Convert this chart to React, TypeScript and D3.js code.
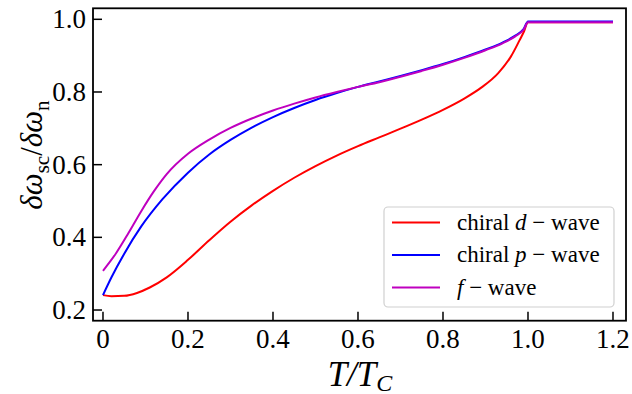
import React from 'react';
import * as d3 from 'd3';

// chiral d-wave (red)
const tD = [0, 0.02, 0.05, 0.08, 0.11, 0.15, 0.2, 0.25, 0.3, 0.35, 0.4, 0.45, 0.5, 0.55, 0.6, 0.65, 0.7, 0.75, 0.8, 0.85, 0.89, 0.93, 0.96, 0.98, 0.99, 1.0, 1.2];
const vD = [0.241, 0.238, 0.239, 0.247, 0.262, 0.29, 0.338, 0.392, 0.443, 0.488, 0.528, 0.564, 0.596, 0.625, 0.651, 0.675, 0.699, 0.724, 0.751, 0.782, 0.812, 0.852, 0.898, 0.942, 0.965, 0.992, 0.992];
// chiral p-wave (blue)
const tP = [0, 0.02, 0.05, 0.09, 0.14, 0.2, 0.25, 0.3, 0.35, 0.4, 0.45, 0.5, 0.55, 0.6, 0.65, 0.7, 0.75, 0.8, 0.85, 0.9, 0.94, 0.97, 0.99, 1.0, 1.2];
const vP = [0.241, 0.29, 0.355, 0.43, 0.505, 0.578, 0.628, 0.668, 0.702, 0.731, 0.756, 0.778, 0.797, 0.814, 0.829, 0.844, 0.86, 0.877, 0.896, 0.917, 0.936, 0.955, 0.974, 0.994, 0.994];
// f-wave (magenta)
const tF = [0, 0.03, 0.06, 0.09, 0.12, 0.15, 0.2, 0.25, 0.3, 0.35, 0.4, 0.45, 0.5, 0.55, 0.6, 0.65, 0.7, 0.75, 0.8, 0.85, 0.9, 0.94, 0.97, 0.99, 1.0, 1.2];
const vF = [0.308, 0.355, 0.412, 0.472, 0.527, 0.574, 0.63, 0.669, 0.701, 0.727, 0.749, 0.768, 0.785, 0.8, 0.814, 0.827, 0.842, 0.858, 0.875, 0.894, 0.915, 0.934, 0.953, 0.972, 0.992, 0.992];

const xTicks = [0, 0.2, 0.4, 0.6, 0.8, 1.0, 1.2];
const xTickLabels = ['0', '0.2', '0.4', '0.6', '0.8', '1.0', '1.2'];
const yTicks = [0.2, 0.4, 0.6, 0.8, 1.0];
const yTickLabels = ['0.2', '0.4', '0.6', '0.8', '1.0'];

const W = 632, H = 394;
const L = 93, R = 626, T = 8.3, B = 320.7;
const FONT = "'Liberation Serif', 'Times New Roman', serif";

export default function App() {
  const x = d3.scaleLinear().domain([-0.0235, 1.2306]).range([L, R]);
  const y = d3.scaleLinear().domain([0.1706, 1.0303]).range([B, T]);
  const line = d3.line<[number, number]>().x(d => x(d[0])).y(d => y(d[1])).curve(d3.curveMonotoneX);
  const mk = (ts: number[], vs: number[]) => line(ts.map((t, i) => [t, vs[i]] as [number, number])) || '';

  const series = [
    { ts: tD, vs: vD, color: '#ff0000' },
    { ts: tP, vs: vP, color: '#0000ff' },
    { ts: tF, vs: vF, color: '#bf00bf' },
  ];
  const legend = [
    { color: '#ff0000', pre: 'chiral ', it: 'd' },
    { color: '#0000ff', pre: 'chiral ', it: 'p' },
    { color: '#bf00bf', pre: '', it: 'f' },
  ];

  return (
    <svg width={W} height={H} style={{ position: 'absolute', left: 0, top: 0, background: '#fff', fontFamily: FONT }}>
      <rect x={0} y={0} width={W} height={H} fill="#fff" />
      <defs>
        <clipPath id="plotclip"><rect x={L} y={T} width={R - L} height={B - T} /></clipPath>
      </defs>
      <g clipPath="url(#plotclip)">
        {series.map((s, i) => (
          <path key={i} d={mk(s.ts, s.vs)} fill="none" stroke={s.color} strokeWidth={2} />
        ))}
      </g>
      {/* legend */}
      <rect x={384} y={207} width={230} height={100} rx={4} fill="#fff" fillOpacity={0.8} stroke="#d0d0d0" strokeWidth={1.2} />
      {legend.map((l, i) => {
        const cy = 222.5 + i * 32.5;
        return (
          <g key={i}>
            <line x1={392} x2={440} y1={cy} y2={cy} stroke={l.color} strokeWidth={2} />
            <text x={457} y={cy + 7} fontSize={23} fill="#000" style={{ fontFamily: FONT }}>
              {l.pre}<tspan fontStyle="italic">{l.it}</tspan>{' \u2212 wave'}
            </text>
          </g>
        );
      })}
      {/* frame */}
      <rect x={L} y={T} width={R - L} height={B - T} fill="none" stroke="#000" strokeWidth={1.8} />
      {xTicks.map((t, i) => (
        <g key={'x' + i}>
          <line x1={x(t)} x2={x(t)} y1={B} y2={B - 9} stroke="#000" strokeWidth={1.5} />
          <text x={x(t)} y={B + 27} textAnchor="middle" fontSize={27} fill="#000" style={{ fontFamily: FONT }}>{xTickLabels[i]}</text>
        </g>
      ))}
      {yTicks.map((t, i) => (
        <g key={'y' + i}>
          <line x1={L} x2={L + 9} y1={y(t)} y2={y(t)} stroke="#000" strokeWidth={1.5} />
          <text x={86} y={y(t) + 9} textAnchor="end" fontSize={27} fill="#000" style={{ fontFamily: FONT }}>{yTickLabels[i]}</text>
        </g>
      ))}
      {/* axis labels */}
      <text x={360} y={386} textAnchor="middle" fontSize={35} fontStyle="italic" fill="#000" style={{ fontFamily: FONT }}>
        T/T<tspan fontSize={24} dy={5}>C</tspan>
      </text>
      <text transform="translate(42,155) rotate(-90)" textAnchor="middle" fontSize={31} fill="#000" style={{ fontFamily: FONT }}>
        <tspan fontStyle="italic">{'\u03B4\u03C9'}</tspan>
        <tspan fontSize={21} dy={7}>sc</tspan>
        <tspan dy={-7}>/</tspan>
        <tspan fontStyle="italic">{'\u03B4\u03C9'}</tspan>
        <tspan fontSize={21} dy={7}>n</tspan>
      </text>
    </svg>
  );
}
